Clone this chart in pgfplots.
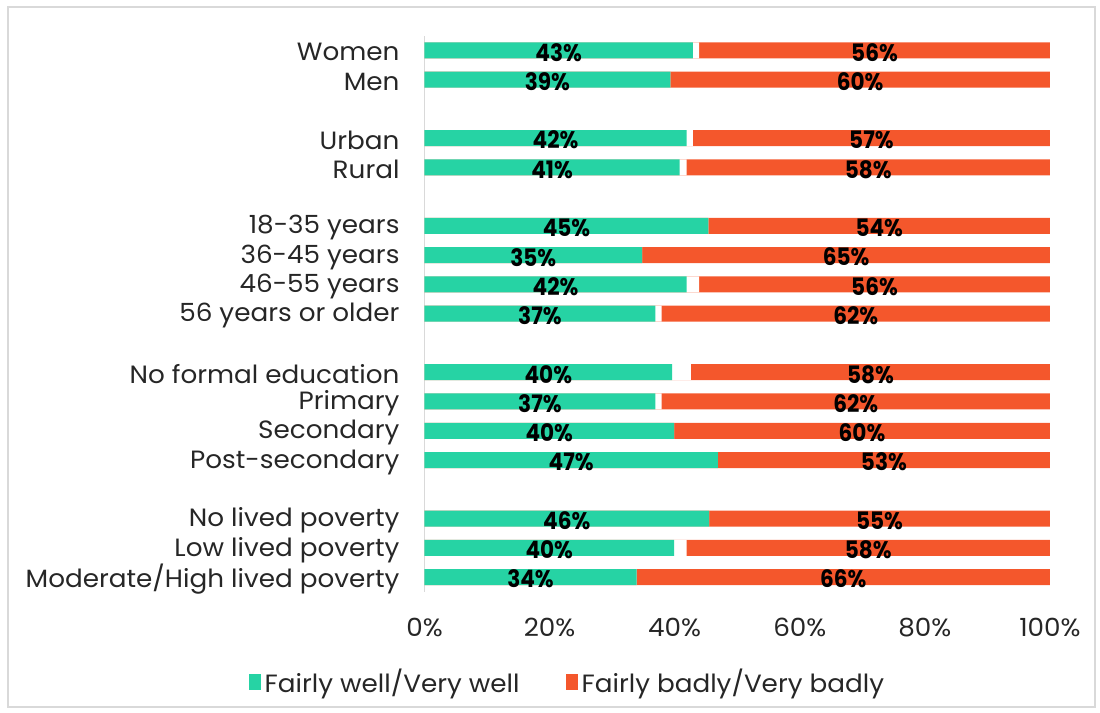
\documentclass[border=0pt]{standalone}
\usepackage{pgfplots}
\pgfplotsset{compat=1.18}
\usepackage{pgfplotstable}
\usepackage{fontspec}
\setmainfont{Poppins}[FakeStretch=1.05]
\newfontfamily\labfont{Poppins}[FakeStretch=0.9]
\definecolor{cgreen}{HTML}{26D3A4}
\definecolor{corange}{HTML}{F4572C}
\pgfplotstableread{
y g o gl ol
18 42.9 56.1 43 56
17 39.3 60.7 39 60
15 41.9 57.1 42 57
14 40.8 58.1 41 58
12 45.4 54.6 45 54
11 34.8 65.2 35 65
10 41.9 56.1 42 56
9 36.9 62.1 37 62
7 39.6 57.4 40 58
6 36.9 62.1 37 62
5 39.9 60.1 40 60
4 46.9 53.1 47 53
2 45.5 54.5 46 55
1 39.9 58.1 40 58
0 33.9 66.1 34 66
}\data
\begin{document}
\begin{tikzpicture}
\path (0pt,0pt) rectangle (550pt,-356.5pt);
\draw[black!15, line width=0.6pt] (4pt,-3.5pt) rectangle (547.5pt,-353.5pt);
\begin{axis}[
  at={(212.25pt,-295.85pt)}, anchor=south west,
  scale only axis, width=312.75pt, height=278pt,
  xmin=0, xmax=100, ymin=-0.5, ymax=18.5,
  axis line style={draw=none},
  major tick length=0pt,
  xtick={0,20,...,100},
  xticklabel={\pgfmathprintnumber[assume math mode=true]{\tick}\%},
  ytick={0,1,2,4,5,6,7,9,10,11,12,14,15,17,18},
  yticklabels={Moderate/High lived poverty, Low lived poverty, No lived poverty, Post-secondary, Secondary, Primary, No formal education, 56 years or older, 46-55 years, 36-45 years, 18-35 years, Rural, Urban, Men, Women},
  tick label style={font=\fontsize{12.5}{14}\selectfont, text=black!85},
  yticklabel style={inner xsep=0pt, xshift=-12.3pt, yshift=-1pt},
  xticklabel style={yshift=-9.5pt},
  legend style={at={(0.23,-0.162)}, anchor=center, draw=none, fill=none,
    legend columns=2, font=\fontsize{12.5}{14}\selectfont, text=black!85,
    /tikz/every even column/.append style={column sep=21pt}},
  legend image code/.code={\fill[#1] (0pt,-4pt) rectangle (6pt,4pt);},
  clip=false,
]
\addlegendimage{fill=cgreen, draw=none}
\addlegendentry{Fairly well/Very well}
\addlegendimage{fill=corange, draw=none}
\addlegendentry{Fairly badly/Very badly}
\draw[black!15, line width=0.8pt] (axis cs:0,-0.5) -- (axis cs:0,18.5);
\addplot[xbar, bar width=8pt, bar shift=0pt, fill=corange, draw=none, forget plot]
  table[x expr=100, y=y] {\data};
\addplot[xbar, bar width=8pt, bar shift=0pt, fill=white, draw=none, forget plot]
  table[x expr=100-\thisrow{o}, y=y] {\data};
\addplot[xbar, bar width=8pt, bar shift=0pt, fill=cgreen, draw=none, forget plot]
  table[x=g, y=y] {\data};
\addplot[draw=none, mark=none, forget plot, point meta=explicit,
  nodes near coords={\pgfmathprintnumber[assume math mode=true]{\pgfplotspointmeta}\%},
  every node near coord/.append style={anchor=center, yshift=-1pt, font=\labfont\bfseries\fontsize{12}{13}\selectfont, text=black}]
  table[x expr=\thisrow{g}/2, y=y, meta=gl] {\data};
\addplot[draw=none, mark=none, forget plot, point meta=explicit,
  nodes near coords={\pgfmathprintnumber[assume math mode=true]{\pgfplotspointmeta}\%},
  every node near coord/.append style={anchor=center, yshift=-1pt, font=\labfont\bfseries\fontsize{12}{13}\selectfont, text=black}]
  table[x expr=100-\thisrow{o}/2, y=y, meta=ol] {\data};
\end{axis}
\end{tikzpicture}
\end{document}
